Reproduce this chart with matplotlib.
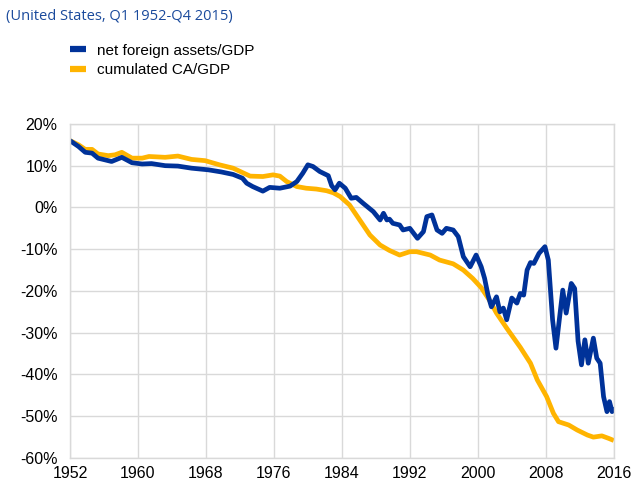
import numpy as np
import matplotlib as mpl
mpl.use('Agg')
import matplotlib.pyplot as plt
from matplotlib.ticker import FuncFormatter

plt.rcParams['font.family'] = ['Liberation Sans', 'DejaVu Sans']

# net foreign assets / GDP (%)
nfa_years = [1952.0, 1953.0, 1953.8, 1954.6, 1955.3, 1956.9, 1958.1, 1959.3, 1960.5, 1961.6,
             1963.2, 1964.7, 1966.3, 1968.3, 1969.8, 1971.2, 1972.3, 1972.8, 1973.5, 1974.7,
             1975.5, 1976.7, 1977.9, 1978.7, 1979.4, 1980.0, 1980.6, 1981.4, 1982.4, 1982.8,
             1983.2, 1983.7, 1984.4, 1985.1, 1985.7, 1986.5, 1987.7, 1988.5, 1988.9, 1989.3,
             1989.6, 1990.0, 1990.8, 1991.2, 1992.0, 1992.9, 1993.6, 1994.0, 1994.6, 1995.2,
             1995.8, 1996.3, 1997.1, 1997.7, 1998.3, 1999.1, 1999.8, 2000.4, 2000.8, 2001.2,
             2001.6, 2002.2, 2002.6, 2003.0, 2003.4, 2004.0, 2004.6, 2005.0, 2005.4, 2005.8,
             2006.2, 2006.6, 2007.2, 2007.9, 2008.3, 2008.8, 2009.2, 2010.0, 2010.4, 2011.0,
             2011.4, 2011.8, 2012.2, 2012.6, 2013.0, 2013.6, 2014.0, 2014.4, 2014.8, 2015.2,
             2015.5, 2015.8, 2016.0]
nfa = [16.0, 14.6, 13.2, 13.0, 11.8, 11.0, 12.0, 10.7, 10.4, 10.5,
       10.0, 9.9, 9.4, 9.0, 8.5, 7.9, 7.0, 5.8, 5.0, 3.9,
       4.8, 4.6, 5.1, 6.2, 8.2, 10.2, 9.8, 8.6, 7.6, 5.2,
       4.2, 5.8, 4.6, 2.2, 2.4, 1.0, -1.0, -3.0, -1.4, -3.0,
       -2.8, -3.8, -4.2, -5.4, -5.0, -7.4, -5.8, -2.2, -1.8, -5.4,
       -6.2, -5.0, -5.4, -7.0, -11.8, -14.2, -11.4, -14.2, -17.0, -21.0,
       -23.8, -21.4, -25.0, -24.1, -26.9, -21.7, -22.9, -20.6, -21.0, -15.0,
       -13.2, -13.4, -11.0, -9.4, -12.6, -26.9, -33.7, -19.8, -25.3, -18.2,
       -19.4, -32.0, -37.7, -31.7, -37.3, -31.3, -36.1, -37.3, -45.3, -48.9,
       -46.5, -48.9, -47.8]

# cumulated current account / GDP (%)
ca_years = [1952.0, 1953.0, 1953.8, 1954.6, 1955.3, 1956.5, 1957.3, 1958.1, 1959.3, 1960.5,
            1961.3, 1963.2, 1964.7, 1966.3, 1967.9, 1969.6, 1971.2, 1973.2, 1974.7, 1975.9,
            1976.7, 1977.5, 1978.7, 1979.8, 1981.0, 1982.2, 1983.0, 1983.8, 1984.9, 1986.1,
            1987.3, 1988.5, 1989.6, 1990.8, 1992.0, 1992.8, 1994.4, 1995.5, 1997.1, 1998.3,
            1999.4, 2000.4, 2001.4, 2002.2, 2003.4, 2005.0, 2006.2, 2007.0, 2008.1, 2008.9,
            2009.5, 2010.7, 2011.7, 2012.9, 2013.6, 2014.6, 2015.4, 2016.0]
ca = [16.0, 15.0, 13.9, 13.9, 12.8, 12.4, 12.6, 13.2, 11.8, 11.8,
      12.2, 12.0, 12.3, 11.5, 11.2, 10.2, 9.4, 7.5, 7.4, 7.8,
      7.5, 6.2, 5.0, 4.6, 4.4, 4.0, 3.5, 2.6, 0.6, -3.0,
      -6.6, -9.0, -10.3, -11.4, -10.6, -10.6, -11.4, -12.6, -13.5, -15.0,
      -17.0, -19.2, -22.3, -25.3, -28.9, -33.5, -37.3, -41.3, -45.3, -49.3,
      -51.3, -52.1, -53.3, -54.5, -55.0, -54.7, -55.3, -55.8]

year_ticks = [1952, 1960, 1968, 1976, 1984, 1992, 2000, 2008, 2016]
pct_ticks = [20, 10, 0, -10, -20, -30, -40, -50, -60]

blue = '#003299'
yellow = '#ffb400'
grid = '#d9d9d9'

fig = plt.figure(figsize=(6.42, 4.84), dpi=100)
ax = fig.add_axes([0.109, 0.0537, 0.847, 0.6903])

ax.plot(ca_years, ca, color=yellow, lw=3.4, solid_capstyle='butt', label='cumulated CA/GDP')
ax.plot(nfa_years, nfa, color=blue, lw=3.4, solid_capstyle='butt', label='net foreign assets/GDP')

ax.set_xlim(1952, 2016)
ax.set_ylim(-60, 20)
ax.set_xticks(year_ticks)
ax.set_yticks(pct_ticks)
ax.yaxis.set_major_formatter(FuncFormatter(lambda v, p: '%d%%' % v))
ax.tick_params(length=0, labelsize=11.5, colors='black')
ax.tick_params(axis='y', pad=9)
ax.tick_params(axis='x', pad=6)
ax.grid(True, color=grid, lw=1)
ax.set_axisbelow(True)
for s in ax.spines.values():
    s.set_color(grid)
    s.set_linewidth(1)

h, l = ax.get_legend_handles_labels()
leg = fig.legend(h[::-1], l[::-1], loc='upper left', bbox_to_anchor=(0.109, 0.91), frameon=False,
                 fontsize=11, handlelength=1.05, handletextpad=0.75, labelspacing=0.38,
                 borderpad=0, borderaxespad=0)
for ln in leg.get_lines():
    ln.set_linewidth(4.5)

fig.text(0.009, 0.966, '(United States, Q1 1952-Q4 2015)', color='#1a4a9c', fontsize=10.5,
         family=['Open Sans', 'DejaVu Sans'], va='center')

plt.savefig('out.png', dpi=100)
